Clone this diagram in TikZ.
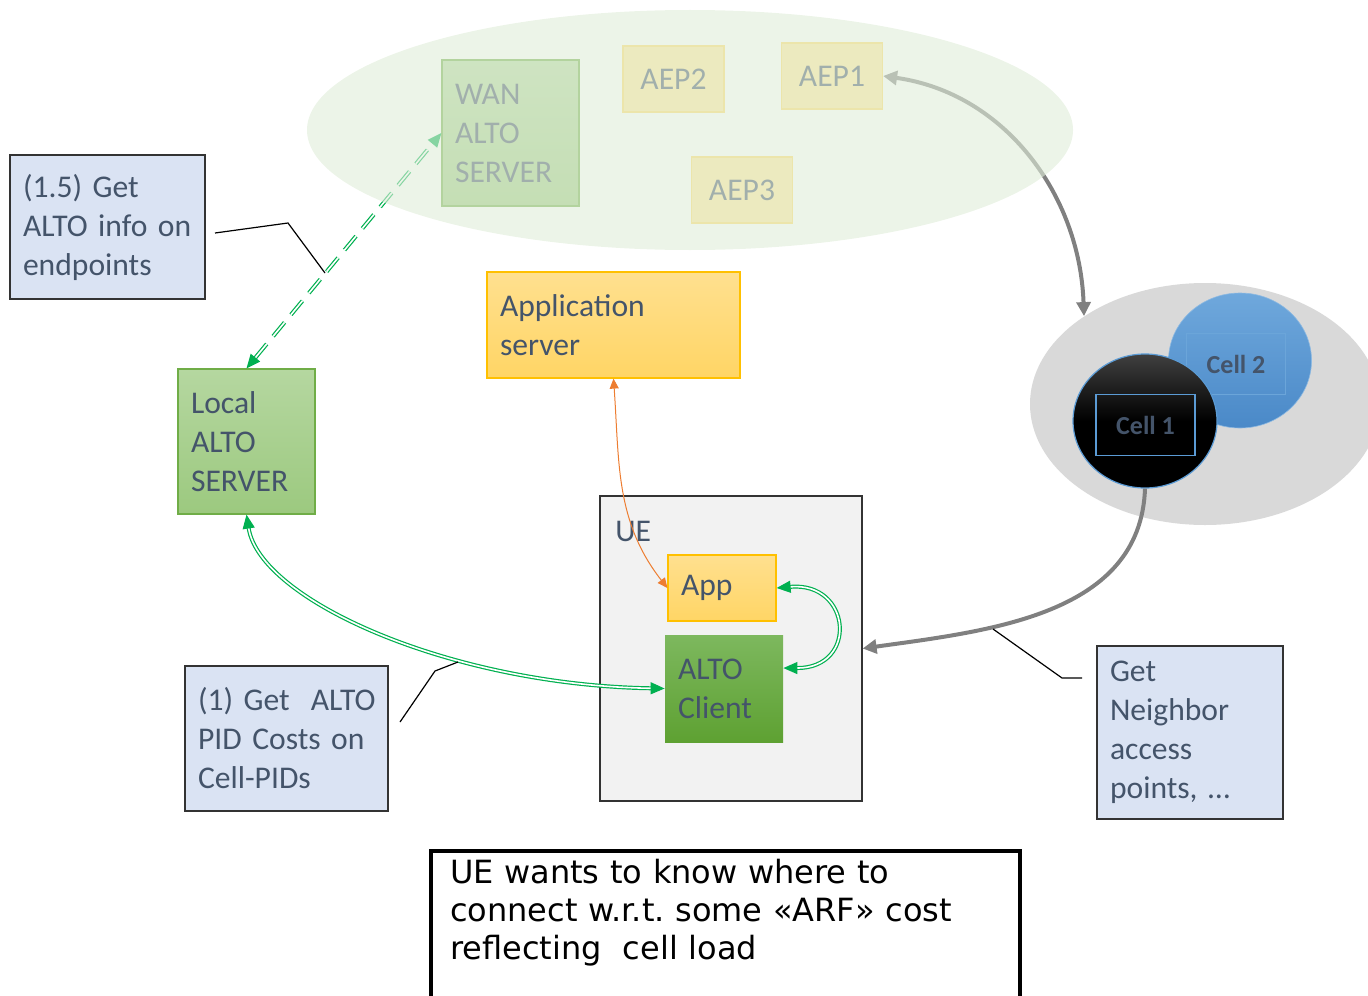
\documentclass[tikz,border=0pt]{standalone}
\usepackage{fontspec}
\setmainfont{Carlito}
\newfontfamily\notefont{DejaVu Sans}
\usetikzlibrary{arrows.meta,shapes.geometric}

\definecolor{slate}{HTML}{44546A}
\definecolor{infofill}{HTML}{DAE3F3}
\definecolor{srvtop}{HTML}{B5D7A0}
\definecolor{srvbot}{HTML}{9CC97F}
\definecolor{srvline}{HTML}{70AD47}
\definecolor{clienttop}{HTML}{7DB85E}
\definecolor{clientbot}{HTML}{5EA132}
\definecolor{apptop}{HTML}{FFE08F}
\definecolor{appbot}{HTML}{FFD565}
\definecolor{appline}{HTML}{FFC000}
\definecolor{aepfill}{HTML}{FFE699}
\definecolor{aepline}{HTML}{FFD966}
\definecolor{uefill}{HTML}{F2F2F2}
\definecolor{linkgreen}{HTML}{00B050}
\definecolor{linkorange}{HTML}{ED7D31}
\definecolor{linkgray}{HTML}{808080}
\definecolor{celltop}{HTML}{6FA8DC}
\definecolor{cellbot}{HTML}{4A89C8}
\definecolor{cellblue}{HTML}{5B9BD5}
\definecolor{areagray}{HTML}{D9D9D9}
\definecolor{wanfill}{RGB}{224,237,217}

\tikzset{
  txt/.style={text=slate, font=\fontsize{15.8}{19.5}\selectfont},
  box/.style={txt, rectangle, align=left, inner xsep=6.5pt, inner ysep=0pt},
  infobox/.style={box, draw=black!80, line width=0.8pt, fill=infofill},
  srvbox/.style={box, draw=srvline, line width=0.6pt, top color=srvtop, bottom color=srvbot},
  appbox/.style={box, draw=appline, line width=0.6pt, top color=apptop, bottom color=appbot},
  aepbox/.style={txt, rectangle, draw=aepline, line width=0.6pt, fill=aepfill,
    minimum width=50.5pt, minimum height=33pt},
  celltxt/.style={rectangle, text=slate, font=\fontsize{13}{15}\selectfont\bfseries,
    minimum width=49.5pt, minimum height=30.5pt},
  greenlink/.style={draw=linkgreen, double=white, double distance=0.8pt, line width=0.6pt,
    {Triangle[length=7pt,width=6pt]}-{Triangle[length=7pt,width=6pt]}},
  orangelink/.style={draw=linkorange, line width=0.5pt,
    {Triangle[length=5pt,width=4.5pt]}-{Triangle[length=5pt,width=4.5pt]}},
  graylink/.style={draw=linkgray, line width=2pt,
    {Triangle[length=7pt,width=7pt]}-{Triangle[length=7pt,width=7pt]}},
  callout/.style={draw=black, line width=0.6pt},
}

\begin{document}
\begin{tikzpicture}[x=0.5pt,y=-0.5pt]
  \useasboundingbox (0,0) rectangle (1368,995);
  \node[ellipse, fill=areagray, minimum width=175pt, minimum height=121pt] (cellarea) at (1205,404) {};
  \node[ellipse, draw=cellblue!70, line width=0.3pt, top color=celltop, bottom color=cellbot,
    minimum width=71.5pt, minimum height=67.5pt] (cell2) at (1240,360.5) {};
  \node[celltxt, draw=cellblue!90!white, line width=0.3pt] (cell2lbl) at (1236,364) {Cell 2};
  \node[ellipse, draw=cellblue, line width=0.6pt, top color=black!75, bottom color=black, middle color=black,
    minimum width=72pt, minimum height=67pt] (cell1) at (1145,421) {};
  \node[celltxt, draw=cellblue, line width=0.6pt] (cell1lbl) at (1145.5,425) {Cell 1};
  \node[srvbox, text width=55.5pt, minimum height=73pt] (wansrv) at (510.5,133) {WAN\\ALTO\\SERVER};
  \node[aepbox] (aep2) at (673.5,79) {AEP2};
  \node[aepbox] (aep1) at (832,76) {AEP1};
  \node[aepbox] (aep3) at (742,190) {AEP3};
  \node[infobox, text width=84.5pt, minimum height=72pt] (get15) at (107.5,227) {(1.5) Get\\ALTO info on\\endpoints};
  \node[srvbox, text width=55.5pt, minimum height=72.5pt] (localsrv) at (246.5,441.5) {Local\\ALTO\\SERVER};
  \node[appbox, text width=113.5pt, minimum height=53pt] (appsrv) at (613.5,325) {Application\\server};
  \node[rectangle, draw=black!80, line width=0.6pt, fill=uefill, minimum width=131pt, minimum height=152.5pt] (ue) at (731,648.5) {};
  \node[txt, anchor=west, inner sep=0pt] (uelabel) at (615,531) {UE};
  \node[appbox, text width=41pt, minimum height=33pt] (app) at (722,588) {App};
  \node[box, top color=clienttop, bottom color=clientbot, text width=46pt, minimum height=53.5pt] (client) at (724,688.5) {ALTO\\Client};
  \node[infobox, text width=88.5pt, minimum height=72.5pt] (get1) at (286.5,738.5) {\mbox{(1) Get\ \ ALTO}\\PID Costs on\\Cell-PIDs};
  \node[infobox, text width=80pt, minimum height=86.5pt] (neighbor) at (1190,732.5) {Get\\Neighbor\\access\\points, …};
  \node[rectangle, draw=black, line width=2pt, fill=white, anchor=north west, align=left,
    text width=275.5pt, inner xsep=9.5pt, inner ysep=4pt, font=\notefont\fontsize{16}{19}\selectfont]
    (note) at (429,849) {UE wants to know where to\\connect w.r.t.\ some «ARF» cost\\reflecting\ \ cell load\\\mbox{}};
  % Draw the links
  \draw[greenlink, dash pattern=on 9pt off 5pt] (localsrv.north) -- (wansrv.west);
  \draw[greenlink] (localsrv.south) .. controls (260,600) and (450,685) .. (client.west);
  \draw[greenlink] (app.east) to[out=5, in=0, looseness=2.4] (client.19);
  \draw[orangelink] (appsrv.south) to[out=-86, in=128] (app.west);
  \draw[graylink] (aep1.east) to[out=-8, in=92] (cellarea.144);
  \draw[graylink, -{Triangle[length=7pt,width=7pt]}] (cell1.south) to[out=-92, in=8] (ue.east);
  % callouts
  \coordinate (s15) at (215,233);
  \coordinate (k15) at (288,223);
  \coordinate (t15) at (325,273);
  \coordinate (s1) at (400,722);
  \coordinate (k1) at (435,671);
  \coordinate (t1) at (458,662);
  \coordinate (sn) at (1082,678);
  \coordinate (kn) at (1062,678);
  \coordinate (tn) at (993,629);
  \draw[callout] (s15) -- (k15) -- (t15);
  \draw[callout] (s1) -- (k1) -- (t1);
  \draw[callout] (sn) -- (kn) -- (tn);
  % wide area, laid over what is in it
  \fill[wanfill, fill opacity=0.6] (690,130) ellipse [x radius=191.5pt, y radius=60pt];
\end{tikzpicture}
\end{document}
